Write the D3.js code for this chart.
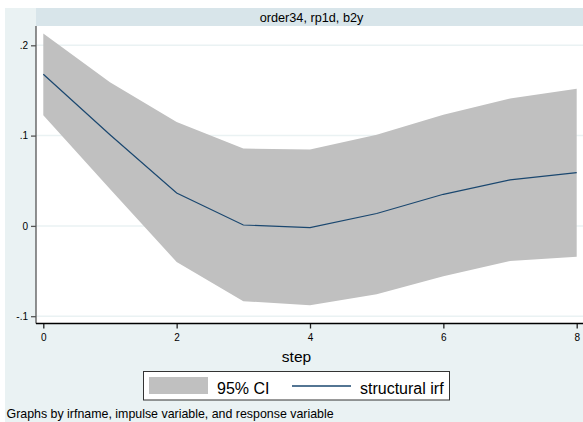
<!DOCTYPE html>
<html>
<head>
<meta charset="utf-8">
<script src="https://cdn.jsdelivr.net/npm/d3@7/dist/d3.min.js"></script>
<style>
  html, body { margin: 0; padding: 0; background: #ffffff; }
  svg { display: block; }
  text { font-family: "Liberation Sans", Arial, Helvetica, sans-serif; }
</style>
</head>
<body>
<svg id="chart" width="583" height="422"></svg>
<script>
// ---- data ----
const steps = [0, 1, 2, 3, 4, 5, 6, 7, 8];
const irf   = [0.168, 0.101, 0.0365, 0.001, -0.002, 0.0137, 0.035, 0.051, 0.059];
const upper = [0.213, 0.159, 0.115, 0.0857, 0.0845, 0.101, 0.123, 0.141, 0.152];
const lower = [0.1225, 0.041, -0.040, -0.0834, -0.0878, -0.0756, -0.0557, -0.039, -0.0343];
const xTicks = [0, 2, 4, 6, 8];
const yTicks = [-0.1, 0, 0.1, 0.2];
const yTickLabels = ["-.1", "0", ".1", ".2"];
const panelTitle = "order34, rp1d, b2y";
const xTitle = "step";
const legendLabels = ["95% CI", "structural irf"];
const note = "Graphs by irfname, impulse variable, and response variable";

// ---- layout ----
const svg = d3.select("#chart");
const bg = "#EAF2F3";
const plotL = 36, plotR = 583, plotT = 26, plotB = 323.5;

svg.append("rect").attr("x", 5).attr("y", 8).attr("width", 578).attr("height", 414).attr("fill", bg);
// header strip
svg.append("rect").attr("x", plotL).attr("y", 8).attr("width", plotR - plotL).attr("height", 18).attr("fill", "#D8E5EA");
svg.append("text").attr("x", (plotL + plotR) / 2 + 2).attr("y", 22).attr("text-anchor", "middle")
  .attr("font-size", "12.7px").attr("fill", "#000").text(panelTitle);
// plot area
svg.append("rect").attr("x", plotL).attr("y", plotT).attr("width", plotR - plotL).attr("height", plotB - plotT).attr("fill", "#fff");

const x = d3.scaleLinear().domain([0, 8]).range([43.3, 576.7]);
const y = d3.scaleLinear().domain([-0.1, 0.2]).range([316.2, 45.3]);

// gridlines
svg.append("g").selectAll("line").data(yTicks).join("line")
  .attr("x1", plotL).attr("x2", plotR)
  .attr("y1", d => y(d)).attr("y2", d => y(d))
  .attr("stroke", bg).attr("stroke-width", 1.5);

const pts = steps.map((s, i) => ({ s, irf: irf[i], lo: lower[i], hi: upper[i] }));

svg.append("path").datum(pts)
  .attr("d", d3.area().x(d => x(d.s)).y0(d => y(d.lo)).y1(d => y(d.hi)))
  .attr("fill", "#C0C0C0");

svg.append("path").datum(pts)
  .attr("d", d3.line().x(d => x(d.s)).y(d => y(d.irf)))
  .attr("fill", "none").attr("stroke", "#1A476F").attr("stroke-width", 1.2);

// y axis
const yAxis = svg.append("g").attr("transform", `translate(${plotL},0)`)
  .call(d3.axisLeft(y).tickValues(yTicks).tickSize(5).tickPadding(3)
    .tickFormat((d, i) => yTickLabels[i]));
yAxis.select(".domain").remove();
yAxis.selectAll(".tick line").attr("stroke", "#555").attr("stroke-width", 1.3);
yAxis.selectAll(".tick text").attr("font-size", "10px").attr("fill", "#000")
  .attr("font-family", "Liberation Sans, Arial, sans-serif");
svg.append("line").attr("x1", plotL).attr("x2", plotL).attr("y1", plotT).attr("y2", plotB)
  .attr("stroke", "#555").attr("stroke-width", 1.3);

// x axis
const xAxis = svg.append("g").attr("transform", `translate(0,${plotB})`)
  .call(d3.axisBottom(x).tickValues(xTicks).tickSize(5).tickPadding(5).tickFormat(d3.format("d")));
xAxis.select(".domain").remove();
xAxis.selectAll(".tick line").attr("stroke", "#222").attr("stroke-width", 1.3);
xAxis.selectAll(".tick text").attr("font-size", "10px").attr("fill", "#000")
  .attr("font-family", "Liberation Sans, Arial, sans-serif");
svg.append("line").attr("x1", plotL).attr("x2", plotR).attr("y1", plotB).attr("y2", plotB)
  .attr("stroke", "#000").attr("stroke-width", 1.5);

// x title
svg.append("text").attr("x", 296.5).attr("y", 362).attr("text-anchor", "middle")
  .attr("font-size", "15.5px").attr("fill", "#000").text(xTitle);

// legend
const lg = svg.append("g");
lg.append("rect").attr("x", 143.5).attr("y", 371.5).attr("width", 306).attr("height", 28.5)
  .attr("fill", "#fff").attr("stroke", "#333").attr("stroke-width", 1);
lg.append("rect").attr("x", 149).attr("y", 377).attr("width", 59).attr("height", 17).attr("fill", "#C0C0C0");
lg.append("text").attr("x", 217).attr("y", 393.5).attr("font-size", "16px").attr("fill", "#000").text(legendLabels[0]);
lg.append("line").attr("x1", 292).attr("x2", 351).attr("y1", 386).attr("y2", 386)
  .attr("stroke", "#1A476F").attr("stroke-width", 1.3);
lg.append("text").attr("x", 360).attr("y", 393.5).attr("font-size", "16px").attr("fill", "#000").text(legendLabels[1]);

// note
svg.append("text").attr("x", 6.5).attr("y", 417.5).attr("font-size", "12.4px").attr("fill", "#000").text(note);
</script>
</body>
</html>
